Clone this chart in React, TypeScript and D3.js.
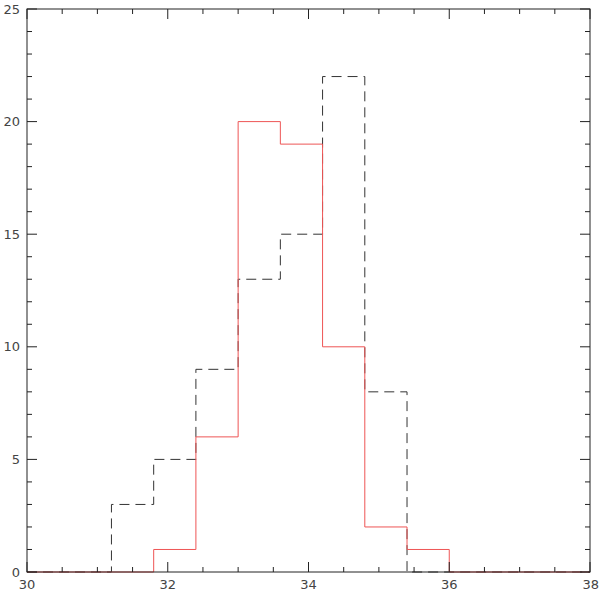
import React, { useEffect, useRef } from 'react';
import * as d3 from 'd3';

// bin edges shared by both histograms
const binEdges = [30, 31.2, 31.8, 32.4, 33.0, 33.6, 34.2, 34.8, 35.4, 36.0, 38];
// counts per bin (same length as binEdges - 1)
const redCounts = [0, 0, 1, 6, 20, 19, 10, 2, 1, 0];
const dashedCounts = [0, 3, 5, 9, 13, 15, 22, 8, 0, 0];

const xTickLabels = [30, 32, 34, 36, 38];
const yTickLabels = [0, 5, 10, 15, 20, 25];

const App = () => {
  const ref = useRef<SVGSVGElement>(null);

  useEffect(() => {
    const svg = d3.select(ref.current);
    svg.selectAll('*').remove();

    const width = 600;
    const height = 593;
    const m = { left: 27, right: 10, top: 9, bottom: 21 };

    const x = d3.scaleLinear().domain([30, 38]).range([m.left, width - m.right]);
    const y = d3.scaleLinear().domain([0, 25]).range([height - m.bottom, m.top]);

    const axisColor = '#222';
    const textColor = '#444';

    const g = svg.append('g');

    // histogram step lines
    const stepLine = d3.line<[number, number]>()
      .x(d => x(d[0]))
      .y(d => y(d[1]))
      .curve(d3.curveStepAfter);

    const toPoints = (counts: number[]): [number, number][] => {
      const pts: [number, number][] = counts.map((c, i) => [binEdges[i], c]);
      pts.push([binEdges[binEdges.length - 1], 0]);
      return pts;
    };

    g.append('path')
      .attr('d', stepLine(toPoints(dashedCounts)))
      .attr('fill', 'none')
      .attr('stroke', '#333')
      .attr('stroke-width', 1)
      .attr('stroke-dasharray', '10,6');

    g.append('path')
      .attr('d', stepLine(toPoints(redCounts)))
      .attr('fill', 'none')
      .attr('stroke', '#ee5555')
      .attr('stroke-width', 1);

    // frame
    g.append('rect')
      .attr('x', x(30))
      .attr('y', y(25))
      .attr('width', x(38) - x(30))
      .attr('height', y(0) - y(25))
      .attr('fill', 'none')
      .attr('stroke', axisColor)
      .attr('stroke-width', 1);

    // ticks: x minor every 0.5, major every 2
    const xTicks = d3.range(30, 38.001, 0.5);
    xTicks.forEach(v => {
      const len = Math.abs(v % 2) < 1e-6 ? 10 : 5;
      g.append('line').attr('x1', x(v)).attr('x2', x(v))
        .attr('y1', y(0)).attr('y2', y(0) - len).attr('stroke', axisColor);
      g.append('line').attr('x1', x(v)).attr('x2', x(v))
        .attr('y1', y(25)).attr('y2', y(25) + len).attr('stroke', axisColor);
    });

    // y minor every 1, major every 5
    const yTicks = d3.range(0, 25.001, 1);
    yTicks.forEach(v => {
      const len = v % 5 === 0 ? 10 : 5;
      g.append('line').attr('x1', x(30)).attr('x2', x(30) + len)
        .attr('y1', y(v)).attr('y2', y(v)).attr('stroke', axisColor);
      g.append('line').attr('x1', x(38)).attr('x2', x(38) - len)
        .attr('y1', y(v)).attr('y2', y(v)).attr('stroke', axisColor);
    });

    // labels
    const labels = svg.append('g')
      .attr('font-family', '"DejaVu Sans", sans-serif')
      .attr('font-size', 13)
      .attr('fill', textColor);

    labels.selectAll('text.xl')
      .data(xTickLabels)
      .join('text')
      .attr('class', 'xl')
      .attr('x', d => x(d))
      .attr('y', height - 4)
      .attr('text-anchor', d => (d === 38 ? 'end' : 'middle'))
      .attr('dx', d => (d === 38 ? 9 : 0))
      .text(d => d);

    labels.selectAll('text.yl')
      .data(yTickLabels)
      .join('text')
      .attr('class', 'yl')
      .attr('x', 20)
      .attr('y', d => y(d))
      .attr('dy', '0.35em')
      .attr('text-anchor', 'end')
      .text(d => d);
  }, []);

  return (
    <svg
      ref={ref}
      width={600}
      height={593}
      style={{ position: 'absolute', left: 0, top: 0, background: '#fff' }}
    />
  );
};

export default App;
